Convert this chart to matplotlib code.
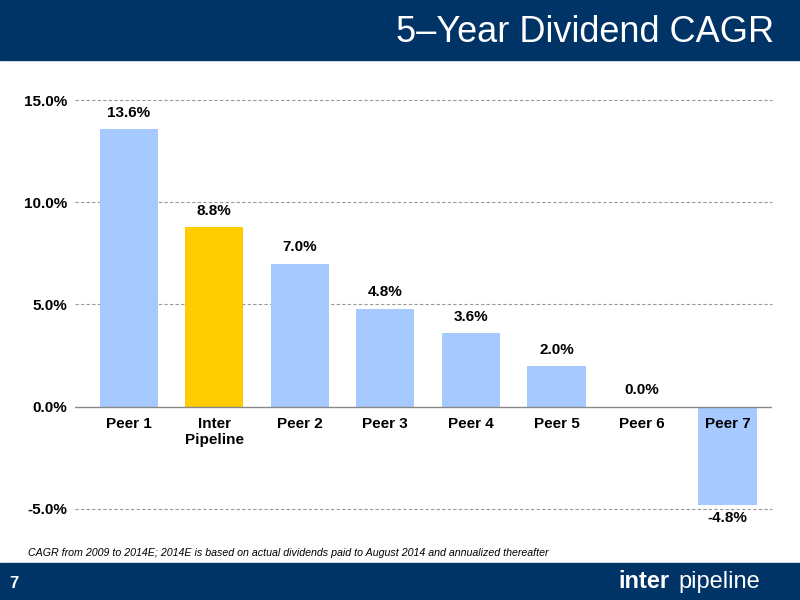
import matplotlib
matplotlib.use("Agg")
import matplotlib.pyplot as plt
from matplotlib.patches import Rectangle

categories = ["Peer 1", "Inter\nPipeline", "Peer 2", "Peer 3", "Peer 4", "Peer 5", "Peer 6", "Peer 7"]
values = [13.6, 8.8, 7.0, 4.8, 3.6, 2.0, 0.0, -4.8]
colors = ["#A6CAFF", "#FFCC00", "#A6CAFF", "#A6CAFF", "#A6CAFF", "#A6CAFF", "#A6CAFF", "#A6CAFF"]
yticks = [-5, 0, 5, 10, 15]

plt.rcParams['font.family'] = ['Liberation Sans', 'DejaVu Sans']
fig = plt.figure(figsize=(8, 6), dpi=100)
navy = "#003366"
fig.patches.append(Rectangle((0, 1 - 60/600), 1, 60/600, transform=fig.transFigure, color=navy, zorder=0))
fig.patches.append(Rectangle((0, 0), 1, 37/600, transform=fig.transFigure, color=navy, zorder=0))
fig.text(0.968, 0.945, "5\u2013Year Dividend CAGR", color="white", fontsize=26, ha="right", va="center")
fig.text(0.035, 0.078, "CAGR from 2009 to 2014E; 2014E is based on actual dividends paid to August 2014 and annualized thereafter",
         fontsize=7.7, style="italic", ha="left", va="center")
fig.text(0.012, 0.028, "7", color="white", fontsize=12, fontweight="bold", va="center")
fig.text(0.773, 0.03, "inter", color="white", fontsize=17, fontweight="bold", va="center")
fig.text(0.848, 0.03, "pipeline", color="white", fontsize=17, va="center")

ax = fig.add_axes([0.094, 0.152, 0.871, 0.681])
x = range(len(categories))
ax.bar(x, values, width=0.68, color=colors, zorder=2)
ax.set_ylim(-5, 15)
ax.set_xlim(-0.625, 7.52)
ax.set_yticks(yticks)
ax.set_yticklabels([f"{t:.1f}%" for t in yticks], fontsize=11, fontweight="bold")
ax.set_xticks([])
for i, (c, v) in enumerate(zip(categories, values)):
    ax.text(i, -0.5, c, ha="center", va="top", fontsize=11, fontweight="bold")
    if v >= 0:
        ax.text(i, v + 0.45, f"{v:.1f}%", ha="center", va="bottom", fontsize=11, fontweight="bold")
    else:
        ax.text(i, v - 0.3, f"{v:.1f}%", ha="center", va="top", fontsize=11, fontweight="bold")
for t in [-5, 5, 10, 15]:
    ax.axhline(t, color="#999999", linestyle=(0, (3, 2)), linewidth=0.8, zorder=1, clip_on=False)
ax.axhline(0, color="#888888", linewidth=1, zorder=3)
for s in ["top", "right", "bottom", "left"]:
    ax.spines[s].set_visible(False)
ax.tick_params(axis="y", length=0, pad=6)
fig.savefig("out.png", dpi=100)
